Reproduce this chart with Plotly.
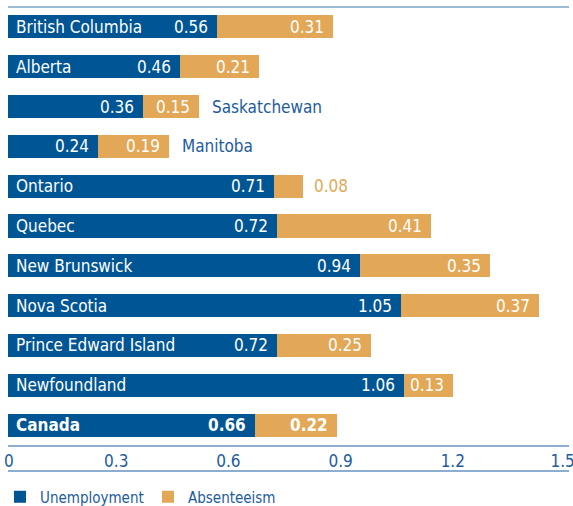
import plotly.graph_objects as go

provinces = ['British Columbia', 'Alberta', 'Saskatchewan', 'Manitoba', 'Ontario', 'Quebec',
             'New Brunswick', 'Nova Scotia', 'Prince Edward Island', 'Newfoundland', 'Canada']
unemployment = [0.56, 0.46, 0.36, 0.24, 0.71, 0.72, 0.94, 1.05, 0.72, 1.06, 0.66]
absenteeism = [0.31, 0.21, 0.15, 0.19, 0.08, 0.41, 0.35, 0.37, 0.25, 0.13, 0.22]
tick_vals = [0, 0.3, 0.6, 0.9, 1.2, 1.5]
tick_text = ['\u00a0\u00a00', '0.3', '0.6', '0.9', '1.2', '1.5\u00a0']
names_outside = ['Saskatchewan', 'Manitoba']
abs_outside = ['Ontario']

BLUE = '#005595'
ORANGE = '#e3a857'
TEXTBLUE = '#1d5c9c'
LINE = '#8cafd1'
FONT = 'DejaVu Sans Condensed, Liberation Sans Narrow, Arial Narrow, sans-serif'
FS = 17

fig = go.Figure()
fig.add_trace(go.Bar(y=provinces, x=unemployment, orientation='h', name='Unemployment',
                     marker=dict(color=BLUE, line=dict(width=0)), width=0.58))
fig.add_trace(go.Bar(y=provinces, x=absenteeism, orientation='h', name='Absenteeism',
                     marker=dict(color=ORANGE, line=dict(width=0)), width=0.58))

ann = []
for p, u, a in zip(provinces, unemployment, absenteeism):
    b = (lambda s: '<b>%s</b>' % s) if p == 'Canada' else (lambda s: s)
    # value labels, right aligned inside each segment
    ann.append(dict(x=u, y=p, text=b('%.2f' % u), xanchor='right', xshift=-7,
                    font=dict(color='white')))
    if p in abs_outside:
        ann.append(dict(x=u + a, y=p, text=b('%.2f' % a), xanchor='left', xshift=9,
                        font=dict(color=ORANGE)))
    else:
        ann.append(dict(x=u + a, y=p, text=b('%.2f' % a), xanchor='right', xshift=-7,
                        font=dict(color='white')))
    # province names
    if p in names_outside:
        ann.append(dict(x=u + a, y=p, text=p, xanchor='left', xshift=11,
                        font=dict(color=TEXTBLUE)))
    else:
        ann.append(dict(x=0, y=p, text=b(p), xanchor='left', xshift=6,
                        font=dict(color='white')))
for d in ann:
    d.update(showarrow=False, xref='x', yref='y')
    d['font'].update(family=FONT, size=FS)

fig.update_layout(
    width=573, height=506,
    margin=dict(l=8, r=4, t=7, b=61, autoexpand=False),
    barmode='stack', bargap=0.42,
    plot_bgcolor='white', paper_bgcolor='white',
    font=dict(family=FONT, size=FS, color=TEXTBLUE),
    annotations=ann,
    showlegend=True,
    legend=dict(orientation='h', xref='container', yref='container', x=0, y=0.018,
                xanchor='left', yanchor='middle', entrywidth=103, entrywidthmode='pixels',
                bgcolor='rgba(0,0,0,0)',
                font=dict(size=15, color=TEXTBLUE), itemwidth=30, traceorder='normal'),
)
# rule on top of the chart and the one under the tick labels
fig.add_hline(y=1, yref='paper', line=dict(color='#7ba4c9', width=1.5))
fig.add_shape(type='line', xref='paper', yref='paper', x0=0, x1=1, y0=-0.0594, y1=-0.0594,
              line=dict(color=LINE, width=2))
fig.update_xaxes(range=[0, 1.5], tickvals=tick_vals, ticktext=tick_text, showgrid=False,
                 zeroline=False, showline=True, linecolor=LINE, linewidth=2, ticks='',
                 automargin=False, ticklabelshift=-4, ticklabeloverflow='allow',
                 tickfont=dict(color=TEXTBLUE, size=FS), fixedrange=True)
fig.update_yaxes(categoryorder='array', categoryarray=provinces, autorange='reversed',
                 automargin=False, showticklabels=False, showgrid=False, zeroline=False,
                 showline=False, fixedrange=True)

# drop the browser's default body margin so the figure fills the window
fig.write_html("out.html", config={'displayModeBar': False},
               post_script="document.body.style.margin='0';document.body.style.overflow='hidden';")
